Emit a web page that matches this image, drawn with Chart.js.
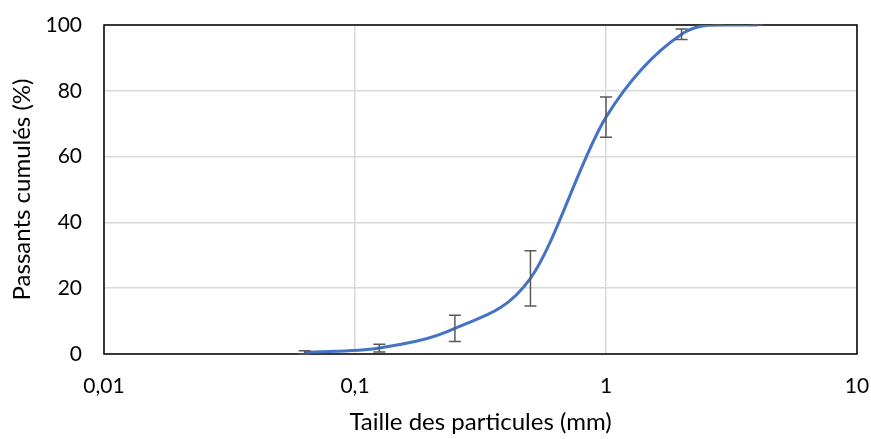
<!DOCTYPE html>
<html>
<head>
<meta charset="utf-8">
<script src="https://cdn.jsdelivr.net/npm/chart.js@4.4.0/dist/chart.umd.min.js"></script>
<style>
    html, body { margin: 0; padding: 0; background: #fff; }
    #wrap { width: 871px; height: 439px; }
</style>
</head>
<body>
<div id="wrap"><canvas id="granuloChart"></canvas></div>
<script>
// Sieve sizes (mm) and cumulative passing (%)
const sieveSizes = [0.063, 0.125, 0.25, 0.5, 1, 2, 2.8, 4];
const passing = [0.5, 1.8, 7.8, 23, 72, 97.2, 100, 100];
const passingErr = [0.5, 1.2, 4, 8.4, 6.1, 1.6, 0, 0];
const xTicks = [0.01, 0.1, 1, 10];
const yTicks = [0, 20, 40, 60, 80, 100];

const font = "Lato, 'Open Sans', sans-serif";

function fmtComma(v) {
    return String(v).replace('.', ',');
}

// error bars drawn through the chart scales
const errorBars = {
    id: 'errorBars',
    afterDatasetsDraw(chart) {
        const ctx = chart.ctx;
        const xs = chart.scales.x, ys = chart.scales.y;
        ctx.save();
        ctx.strokeStyle = '#595959';
        ctx.lineWidth = 1.5;
        sieveSizes.forEach((s, i) => {
            const px = xs.getPixelForValue(s);
            const top = ys.getPixelForValue(passing[i] + passingErr[i]);
            const bot = ys.getPixelForValue(passing[i] - passingErr[i]);
            ctx.beginPath();
            ctx.moveTo(px, top); ctx.lineTo(px, bot);
            ctx.moveTo(px - 6, top); ctx.lineTo(px + 6, top);
            ctx.moveTo(px - 6, bot); ctx.lineTo(px + 6, bot);
            ctx.stroke();
        });
        ctx.restore();
    }
};

const plotBox = {
    id: 'plotBox',
    beforeDatasetsDraw(chart) {
        const a = chart.chartArea;
        const ctx = chart.ctx;
        ctx.save();
        ctx.strokeStyle = '#000';
        ctx.lineWidth = 1.5;
        ctx.strokeRect(a.left, a.top, a.right - a.left, a.bottom - a.top);
        ctx.restore();
    }
};

new Chart(document.getElementById('granuloChart'), {
    type: 'line',
    data: {
        datasets: [{
            data: sieveSizes.map((s, i) => ({x: s, y: passing[i]})),
            borderColor: '#4472C4',
            borderWidth: 3,
            pointRadius: 0,
            cubicInterpolationMode: 'monotone',
            fill: false
        }]
    },
    options: {
        responsive: true,
        maintainAspectRatio: false,
        animation: false,
        layout: {padding: {top: 25, right: 14, left: 0, bottom: 0}},
        plugins: {legend: {display: false}, tooltip: {enabled: false}},
        scales: {
            x: {
                type: 'logarithmic',
                min: 0.01,
                max: 10,
                afterBuildTicks: scale => { scale.ticks = xTicks.map(v => ({value: v})); },
                afterFit: scale => {
                    scale.height = 85;
                    scale.paddingLeft = 0;
                    scale.paddingRight = 0;
                },
                grid: {color: '#d9d9d9', lineWidth: 1.5, drawTicks: false},
                border: {display: false},
                ticks: {
                    padding: 20,
                    color: '#000',
                    font: {family: font, size: 21},
                    maxRotation: 0,
                    callback: v => fmtComma(v)
                },
                title: {
                    display: true,
                    text: 'Taille des particules (mm)',
                    color: '#000',
                    font: {family: font, size: 24},
                    padding: {top: 2, bottom: 2}
                }
            },
            y: {
                min: 0,
                max: 100,
                afterBuildTicks: scale => { scale.ticks = yTicks.map(v => ({value: v})); },
                afterFit: scale => {
                    scale.width = 104;
                    scale.paddingTop = 0;
                    scale.paddingBottom = 0;
                },
                grid: {color: '#d9d9d9', lineWidth: 1.5, drawTicks: false},
                border: {display: false},
                ticks: {
                    padding: 22,
                    color: '#000',
                    font: {family: font, size: 21}
                },
                title: {
                    display: true,
                    text: 'Passants cumulés (%)',
                    color: '#000',
                    font: {family: font, size: 24},
                    padding: {top: 8, bottom: 0}
                }
            }
        }
    },
    plugins: [plotBox, errorBars]
});
</script>
</body>
</html>
